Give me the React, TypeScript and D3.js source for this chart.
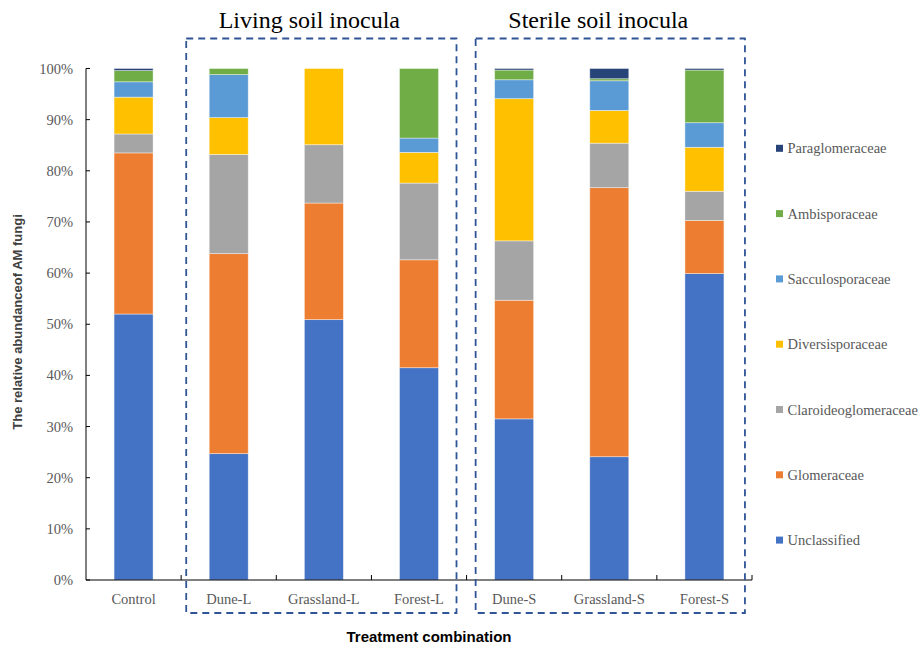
import React from "react";
import * as d3 from "d3";

const categories = ["Control", "Dune-L", "Grassland-L", "Forest-L", "Dune-S", "Grassland-S", "Forest-S"];
const families = ["Unclassified", "Glomeraceae", "Claroideoglomeraceae", "Diversisporaceae", "Sacculosporaceae", "Ambisporaceae", "Paraglomeraceae"];
const colors = ["#4472C4", "#ED7D31", "#A5A5A5", "#FFC000", "#5B9BD5", "#70AD47", "#264478"];

const unclassified = [52.0, 24.7, 50.9, 41.5, 31.5, 24.1, 59.9];
const glomeraceae = [31.5, 39.1, 22.8, 21.1, 23.2, 52.6, 10.4];
const claroideoglomeraceae = [3.7, 19.4, 11.4, 15.0, 11.6, 8.7, 5.7];
const diversisporaceae = [7.2, 7.2, 14.9, 6.0, 27.8, 6.4, 8.6];
const sacculosporaceae = [3.0, 8.4, 0.0, 2.8, 3.7, 5.8, 4.8];
const ambisporaceae = [2.2, 1.2, 0.0, 13.6, 1.9, 0.4, 10.3];
const paraglomeraceae = [0.4, 0.0, 0.0, 0.0, 0.3, 2.0, 0.3];

const yTicks = [0, 10, 20, 30, 40, 50, 60, 70, 80, 90, 100];
const groups = [
  { label: "Living soil inocula", from: "Dune-L", to: "Forest-L" },
  { label: "Sterile soil inocula", from: "Dune-S", to: "Forest-S" },
];

export default function App() {
  const W = 923, H = 649;
  const x0 = 86, x1 = 752, yBottom = 580, yTop = 68.5;
  const series = [unclassified, glomeraceae, claroideoglomeraceae, diversisporaceae, sacculosporaceae, ambisporaceae, paraglomeraceae];
  const rows = categories.map((c, i) => {
    const r: any = { cat: c };
    families.forEach((f, j) => (r[f] = series[j][i]));
    return r;
  });
  const stack = d3.stack<any>().keys(families)(rows);
  const x = d3.scaleBand().domain(categories).range([x0, x1]).paddingInner(0.59).paddingOuter(0.295);
  const y = d3.scaleLinear().domain([0, 100]).range([yBottom, yTop]);
  const step = x.step();
  const serif = "'Liberation Serif', 'Times New Roman', serif";
  const sans = "'Liberation Sans', Arial, sans-serif";
  const grey = "#595959";

  return (
    <svg width={W} height={H} style={{ display: "block", position: "absolute", left: 0, top: 0 }}>
      <rect width={W} height={H} fill="#fff" />
      {stack.map((layer, j) => (
        <g key={families[j]} fill={colors[j]}>
          {layer.map((d, i) => {
            const h = y(d[0]) - y(d[1]);
            if (h <= 0.01) return null;
            return (
              <rect key={i} x={x(categories[i])} y={y(d[1])} width={x.bandwidth()} height={h}
                stroke="#ffffff" strokeOpacity={0.55} strokeWidth={0.75} />
            );
          })}
        </g>
      ))}
      {/* axes */}
      <line x1={x0} x2={x0} y1={yTop} y2={yBottom} stroke="#000" strokeWidth={1} />
      <line x1={x0} x2={x1} y1={yBottom} y2={yBottom} stroke="#000" strokeWidth={1} />
      {yTicks.map((t) => (
        <g key={t}>
          <line x1={x0} x2={x0 + 4} y1={y(t)} y2={y(t)} stroke="#000" strokeWidth={1} />
          <text x={73} y={y(t) + 5} textAnchor="end" fontFamily={serif} fontSize={14.5} fill={grey}>{t}%</text>
        </g>
      ))}
      {categories.map((c, i) => (
        <g key={c}>
          <line x1={x0 + (i + 1) * step} x2={x0 + (i + 1) * step} y1={yBottom} y2={yBottom - 5} stroke="#000" strokeWidth={1} />
          <text x={(x(c) as number) + x.bandwidth() / 2} y={604} textAnchor="middle" fontFamily={serif} fontSize={14.5} fill={grey}>{c}</text>
        </g>
      ))}
      {/* group boxes */}
      {groups.map((g, k) => {
        const left = (x(g.from) as number) - (k === 0 ? 23 : 19);
        const right = (x(g.to) as number) + x.bandwidth() + (k === 0 ? 18 : 21);
        const cx = (left + right) / 2 - 12;
        return (
          <g key={g.label}>
            <rect x={left} y={38.5} width={right - left} height={613 - 38.5} fill="none" stroke="#2F5597" strokeWidth={1.8} strokeDasharray="7,5" />
            <text x={cx} y={28} textAnchor="middle" fontFamily={serif} fontSize={24} fill="#000">{g.label}</text>
          </g>
        );
      })}
      {/* legend */}
      {families.slice().reverse().map((f, k) => {
        const cy = 148.3 + k * 65.3;
        const j = families.length - 1 - k;
        return (
          <g key={f}>
            <rect x={776} y={cy - 3.5} width={7} height={7} fill={colors[j]} />
            <text x={787.5} y={cy + 5} fontFamily={serif} fontSize={14.5} fill={grey}>{f}</text>
          </g>
        );
      })}
      <text transform={`translate(22,322) rotate(-90)`} textAnchor="middle" fontFamily={sans} fontWeight="bold" fontSize={13} fill="#404040">The relative abundanceof AM fungi</text>
      <text x={429} y={642} textAnchor="middle" fontFamily={sans} fontWeight="bold" fontSize={15} fill="#000">Treatment combination</text>
    </svg>
  );
}
